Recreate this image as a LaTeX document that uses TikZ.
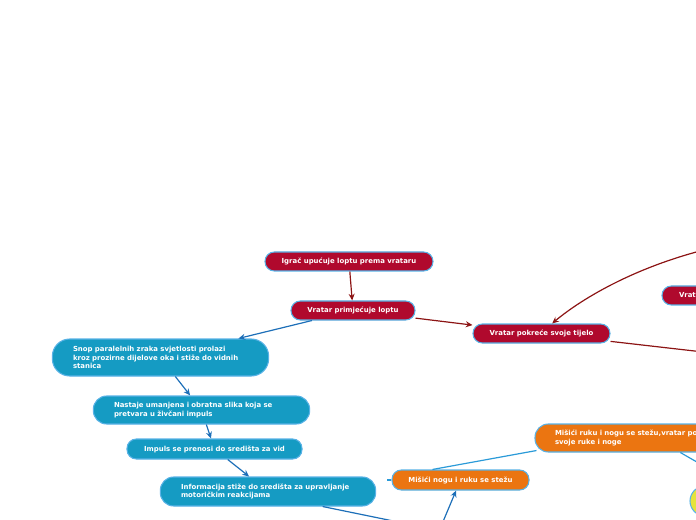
\documentclass[tikz,border=0pt]{standalone}
\usepackage{fontspec}
\usepackage{xcolor}
\usepackage{tikz}
\usetikzlibrary{positioning,arrows.meta}
\newfontfamily\mapfont{DejaVu Sans}

\definecolor{crimson}{HTML}{B0092D}
\definecolor{teal}{HTML}{159BC3}
\definecolor{orng}{HTML}{EB7511}
\definecolor{lime}{HTML}{E5E33A}
\definecolor{rim}{HTML}{58B2E6}
\definecolor{darkred}{HTML}{8C1414}
\definecolor{deepblue}{HTML}{1D6FB8}
\definecolor{skyblue}{HTML}{2A9AD8}

\begin{document}
\begin{tikzpicture}[x=0.75pt, y=-0.75pt, >={Stealth[length=5pt,width=4.5pt]},
    box/.style={draw=rim, line width=0.8pt, text=white, inner ysep=0pt,
        font=\mapfont\fontsize{5.2}{6.4}\selectfont\bfseries},
    redbox/.style={box, fill=crimson, rounded corners=7pt, minimum height=14.25pt},
    bluebox/.style={box, fill=teal, rounded corners=10pt, align=left, inner xsep=15.5pt},
    orangebox/.style={box, fill=orng, rounded corners=7pt},
    redline/.style={draw=darkred, line width=0.9pt},
    blueline/.style={draw=deepblue, line width=0.9pt},
    thinline/.style={draw=skyblue, line width=0.9pt}]
    \useasboundingbox (0,0) rectangle (696,520);
    \clip (0,0) rectangle (696,520);

    % Nodes
    \node[redbox, minimum width=126pt] (igrac) at (349,261.5) {Igrač upućuje loptu prema vrataru};
    \node[redbox, minimum width=93pt] (primjecuje) at (353,310.5) {Vratar primjećuje loptu};
    \node[redbox, minimum width=102.75pt] (pokrece) at (541.5,333.5) {Vratar pokreće svoje tijelo};
    \node[redbox, align=left, text width=72pt, inner xsep=12.75pt] (vrata) at (727,295.5) {Vrata};

    \node[bluebox, text width=131.25pt, minimum height=27.75pt, rounded corners=13pt] (snop) at (160.5,357.5)
        {Snop paralelnih zraka svjetlosti prolazi\\kroz prozirne dijelove oka i stiže do vidnih\\stanica};
    \node[bluebox, text width=131.25pt, minimum height=21pt] (slika) at (201.5,410)
        {Nastaje umanjena i obratna slika koja se\\pretvara u živčani impuls};
    \node[box, fill=teal, rounded corners=7pt, minimum width=131.25pt, minimum height=15pt] (impuls) at (214.5,449)
        {Impuls se prenosi do središta za vid};
    \node[bluebox, text width=130.5pt, minimum height=21.75pt] (informacija) at (268,491.5)
        {Informacija stiže do središta za upravljanje\\motoričkim reakcijama};

    \node[orangebox, rounded corners=10pt, align=left, text width=150pt, inner xsep=15pt, minimum height=21pt] (stezu) at (655,438)
        {Mišići ruku i nogu se stežu,vratar po\\svoje ruke i noge};
    \node[orangebox, minimum width=102.75pt, minimum height=15pt] (misici) at (460.5,480) {Mišići nogu i ruku se stežu};
    \node[box, circle, fill=lime, minimum size=22.5pt] (krug) at (705,501) {};

    % Free ends outside the frame
    \coordinate (desno) at (760,358.5);
    \coordinate (gore) at (730,244);
    \coordinate (dolje) at (447,532);
    \coordinate (ispod) at (429,555);
    \coordinate (lijevo) at (387,480);
    \coordinate (kraj) at (730,481);

    % Arrows
    \draw[redline, ->] (igrac) -- (primjecuje);
    \draw[redline, ->] (primjecuje) -- (pokrece);
    \draw[redline] (pokrece) -- (desno);
    \draw[redline, ->] (gore) .. controls (640,262) and (580,300) .. ([xshift=8pt]pokrece.north);

    \draw[blueline, ->] (primjecuje) -- (snop);
    \draw[blueline, ->] (snop) -- (slika);
    \draw[blueline, ->] (slika) -- (impuls);
    \draw[blueline, ->] (impuls) -- (informacija);
    \draw[blueline] ([xshift=41pt]informacija.south) -- (dolje);
    \draw[blueline, ->] (ispod) -- (misici);

    \draw[thinline] ([xshift=30.75pt]misici.north west) -- ([xshift=1.5pt,yshift=1.5pt]stezu.south west);
    \draw[thinline] (lijevo) -- (misici);
    \draw[thinline] (stezu) -- (kraj);
\end{tikzpicture}
\end{document}
